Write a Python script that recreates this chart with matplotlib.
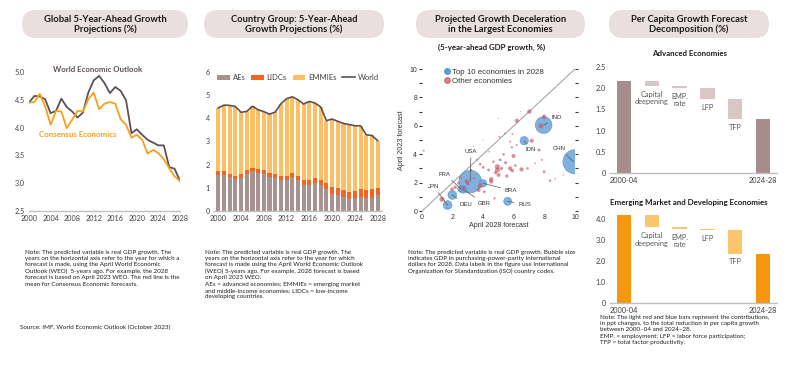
import matplotlib
matplotlib.use("Agg")
import matplotlib.pyplot as plt
import numpy as np
from matplotlib.patches import FancyBboxPatch
from matplotlib.lines import Line2D

W, H = 800, 366
plt.rcParams["font.family"] = ["Lato", "DejaVu Sans"]
HELV = "Liberation Sans"

# ---- data -------------------------------------------------------------
years = list(range(2000, 2029))
weo = [4.45, 4.57, 4.56, 4.51, 4.26, 4.30, 4.52, 4.37, 4.29, 4.18, 4.27, 4.63, 4.85, 4.93, 4.80,
       4.62, 4.73, 4.66, 4.49, 3.90, 3.97, 3.87, 3.78, 3.73, 3.68, 3.68, 3.29, 3.26, 3.04]
consensus = [4.45, 4.46, 4.61, 4.38, 4.05, 4.30, 4.29, 3.99, 4.14, 4.30, 4.29, 4.51, 4.63, 4.33, 4.43,
             4.46, 4.43, 4.15, 4.05, 3.82, 3.87, 3.78, 3.53, 3.60, 3.54, 3.43, 3.27, 3.12, 3.04]

aes = [1.54, 1.54, 1.47, 1.38, 1.42, 1.61, 1.71, 1.64, 1.61, 1.47, 1.44, 1.35, 1.32, 1.45, 1.32,
       1.12, 1.12, 1.21, 1.11, 0.96, 0.75, 0.71, 0.60, 0.53, 0.58, 0.60, 0.58, 0.58, 0.68]
lidcs = [0.17, 0.17, 0.14, 0.15, 0.16, 0.17, 0.16, 0.16, 0.17, 0.17, 0.17, 0.18, 0.21, 0.19, 0.19,
         0.20, 0.20, 0.23, 0.21, 0.25, 0.29, 0.28, 0.29, 0.30, 0.28, 0.36, 0.34, 0.36, 0.33]
emmies = [2.74, 2.86, 2.95, 2.98, 2.68, 2.52, 2.65, 2.57, 2.51, 2.54, 2.66, 3.10, 3.32, 3.29, 3.29,
          3.30, 3.41, 3.22, 3.17, 2.69, 2.93, 2.88, 2.89, 2.90, 2.82, 2.72, 2.37, 2.32, 2.03]

top10_names = ["CHN", "USA", "IND", "JPN", "DEU", "RUS", "IDN", "BRA", "FRA", "GBR"]
top10_x = [10.0, 3.15, 7.95, 1.67, 1.98, 5.60, 6.68, 3.98, 2.55, 2.70]
top10_y = [3.47, 2.07, 6.05, 0.42, 1.13, 0.68, 4.95, 1.95, 1.55, 1.50]
top10_gdp = [46.0, 40.0, 22.0, 6.0, 6.0, 5.0, 5.5, 4.5, 3.5, 3.8]

other_x = [7.02, 7.98, 7.76, 6.20, 7.17, 7.65, 5.87, 5.98, 6.50, 5.76, 4.93, 4.93, 5.00, 4.52, 4.52,
           3.80, 3.70, 2.93, 3.20, 3.60, 3.80, 4.00, 5.54, 5.90, 5.46, 8.37, 7.98, 7.83, 2.50, 2.17,
           1.96, 1.30, 0.11, 4.74, 4.07, 5.07, 5.43, 5.90, 5.76, 6.20, 6.46, 5.00, 4.00, 3.37, 4.39,
           5.10, 4.67, 5.33, 4.35, 6.90, 7.39, 9.24, 8.70, 2.72, 2.39, 4.80, 5.20, 6.10, 3.00, 3.40]
other_y = [7.00, 6.64, 5.99, 6.36, 4.95, 4.30, 4.48, 3.87, 2.93, 3.00, 3.12, 2.89, 2.54, 2.23, 2.07,
           1.76, 1.48, 2.07, 2.89, 3.60, 3.30, 3.07, 2.46, 2.84, 3.40, 2.14, 2.77, 3.60, 2.35, 1.67,
           1.53, 0.82, 4.25, 0.89, 1.36, 5.23, 5.47, 5.42, 4.88, 4.65, 7.00, 6.53, 5.00, 4.53, 4.18,
           3.60, 3.47, 3.99, 2.89, 3.00, 3.36, 2.54, 2.28, 1.60, 1.95, 2.70, 3.00, 3.20, 1.90, 2.30]
other_gdp = [1.5, 1.5, 1.8, 1.3, 1.3, 0.7, 0.4, 1.2, 1.4, 1.4, 2.0, 2.0, 1.2, 1.6, 1.3,
             1.8, 1.3, 1.4, 0.5, 0.3, 0.5, 0.6, 0.8, 1.0, 0.7, 0.5, 0.6, 0.3, 0.4, 0.9,
             1.0, 2.0, 0.3, 0.4, 0.6, 0.3, 0.25, 0.3, 0.3, 0.3, 0.1, 0.1, 0.1, 0.1, 0.2,
             0.6, 0.5, 0.5, 0.6, 0.5, 0.2, 0.15, 0.2, 1.0, 0.6, 0.8, 0.8, 0.5, 0.7, 0.4]

decomp_labels = ["Capital\ndeepening", "EMP.\nrate", "LFP", "TFP"]
period_labels = ["2000-04", "2024-28"]
ae_start, ae_steps = 2.17, [-0.12, -0.04, -0.27, -0.47]
emde_start, emde_steps = 4.20, [-0.60, -0.06, -0.08, -1.10]

# ---- colours ----------------------------------------------------------
C_WEO = "#5e5153"
C_ORANGE = "#f7a11a"
C_AE = "#a8928f"
C_LIDC = "#f26522"
C_EMMIE = "#fdbf63"
C_GRID = "#bfbfbf"
C_TXT = "#404040"
C_PILL = "#e9dfde"

fig = plt.figure(figsize=(W / 100, H / 100), dpi=100)
fig.patch.set_facecolor("white")
renderer = fig.canvas.get_renderer()


def fit(s, target_px, **kw):
    # font size that makes string s about target_px wide
    t = fig.text(0, 0, s, fontsize=10, **kw)
    w = t.get_window_extent(renderer).width
    t.remove()
    return 10 * target_px / w


FS_TITLE = fit("Global 5-Year-Ahead Growth", 122, fontweight="bold")
FS_TICK = fit("2000", 16.7)
FS_LEG2 = fit("EMMIEs", 28)
FS_SUB3 = fit("(5-year-ahead GDP growth, %)", 108, fontweight="bold")
FS_LEG3 = fit("Top 10 economies in 2028", 92, family=HELV)
FS_AXL3 = fit("April 2028 forecast", 60, family=HELV)
FS_TICK3 = fit("10", 7.7, family=HELV)
FS_CTRY = fit("USA", 12.5, family=HELV)
FS_SUB4 = fit("Emerging Market and Developing Economies", 158, fontweight="bold")
FS_DEC = fit("deepening", 34)
FS_TICK4 = fit("2000-04", 28.5)
FS_NOTE = fit("Note: The predicted variable is real GDP growth. Bubble size", 168)
FS_SRC = fit("Source: IMF, World Economic Outlook (October 2023)", 150)

bg = fig.add_axes([0, 0, 1, 1], zorder=-1)
bg.set_xlim(0, W)
bg.set_ylim(H, 0)
bg.axis("off")


def px_axes(x0, y0, x1, y1):
    return fig.add_axes([x0 / W, 1 - y1 / H, (x1 - x0) / W, (y1 - y0) / H])


def pill(x0, x1, text):
    bg.add_patch(FancyBboxPatch((x0, 10), x1 - x0, 28, boxstyle="round,pad=0,rounding_size=14",
                                fc=C_PILL, ec="none"))
    bg.text((x0 + x1) / 2, 24.5, text, ha="center", va="center", fontsize=FS_TITLE,
            fontweight="bold", color="#1a1a1a", linespacing=1.15)


def excel_style(ax, size):
    for s in ("top", "right", "left"):
        ax.spines[s].set_visible(False)
    ax.spines["bottom"].set_color(C_GRID)
    ax.spines["bottom"].set_linewidth(1.0)
    ax.tick_params(length=0, labelsize=size, colors=C_TXT, pad=3)


pill(22, 188, "Global 5-Year-Ahead Growth\nProjections (%)")
pill(204, 384, "Country Group: 5-Year-Ahead\nGrowth Projections (%)")
pill(416, 585, "Projected Growth Deceleration\nin the Largest Economies")
pill(609, 769, "Per Capita Growth Forecast\nDecomposition (%)")

# ---- panel 1 ----------------------------------------------------------
ax1 = px_axes(29, 72, 180, 211)
ax1.plot(years, weo, color=C_WEO, lw=1.3)
ax1.plot(years, consensus, color=C_ORANGE, lw=1.3)
ax1.set_xlim(2000, 2028)
ax1.set_ylim(2.5, 5.0)
ax1.set_xticks(range(2000, 2029, 4))
ax1.set_yticks(np.arange(2.5, 5.01, 0.5))
ax1.set_yticklabels([f"{v:.1f}" for v in np.arange(2.5, 5.01, 0.5)])
excel_style(ax1, FS_TICK)
ax1.text(2012.8, 5.04, "World Economic Outlook", color=C_WEO,
         fontsize=fit("World Economic Outlook", 90, fontweight="bold"), fontweight="bold",
         ha="center", va="center")
ax1.text(2009.0, 3.87, "Consensus Economics", color=C_ORANGE,
         fontsize=fit("Consensus Economics", 77, fontweight="bold"), fontweight="bold",
         ha="center", va="center")

# ---- panel 2 ----------------------------------------------------------
ax2 = px_axes(214, 72, 382, 211)
bw = 0.72
b1 = ax2.bar(years, aes, bw, color=C_AE)
b2 = ax2.bar(years, lidcs, bw, bottom=aes, color=C_LIDC)
b3 = ax2.bar(years, emmies, bw, bottom=np.add(aes, lidcs), color=C_EMMIE)
l1, = ax2.plot(years, weo, color=C_WEO, lw=1.2)
ax2.set_xlim(1999.24, 2028.77)
ax2.set_ylim(0, 6)
ax2.set_xticks(range(2000, 2029, 4))
ax2.set_yticks(range(0, 7))
excel_style(ax2, FS_TICK)
ax2.legend([b1, b2, b3, l1], ["AEs", "LIDCs", "EMMIEs", "World"], ncol=4, loc="upper center",
           bbox_to_anchor=(0.5, 1.035), frameon=False, fontsize=FS_LEG2, handlelength=1.7,
           handleheight=0.55, columnspacing=0.75, handletextpad=0.35, labelcolor=C_TXT)

# ---- panel 3 ----------------------------------------------------------
SCALE = 6.6
ax3 = px_axes(422, 69, 575, 211)
ax3.plot([0, 10], [0, 10], color="#a6a6a6", lw=0.8, zorder=1)
ax3.scatter(top10_x, top10_y, s=np.array(top10_gdp) * SCALE, color="#6aa3d8", alpha=0.85,
            edgecolors="#4a88c6", linewidths=0.4, zorder=2)
ax3.scatter(other_x, other_y, s=np.array(other_gdp) * SCALE, color="#c9505f", alpha=0.65,
            edgecolors="none", zorder=3)
ax3.set_xlim(0, 10)
ax3.set_ylim(0, 10)
for s in ax3.spines.values():
    s.set_visible(False)
ax3.set_xticks(range(0, 11, 2))
ax3.set_yticks(range(0, 11, 2))
ax3.set_yticks(range(0, 11), minor=True)
ax3.tick_params(axis="x", length=0, labelsize=FS_TICK3, colors="#333333", pad=2)
ax3.tick_params(axis="y", which="both", length=2.5, width=0.8, labelsize=FS_TICK3,
                colors="#333333", right=True, pad=1)
for lab in ax3.get_xticklabels() + ax3.get_yticklabels():
    lab.set_family(HELV)
ax3.set_xlabel("April 2028 forecast", fontsize=FS_AXL3, family=HELV, color="#333333",
               labelpad=1)
ax3.set_ylabel("April 2023 forecast", fontsize=FS_AXL3, family=HELV, color="#333333",
               labelpad=3)

label_pos = {"CHN": (9.0, 4.4), "USA": (3.2, 4.2), "IND": (8.8, 6.6), "JPN": (0.75, 1.75),
             "DEU": (2.85, 0.45), "RUS": (6.7, 0.45), "IDN": (7.1, 4.3), "BRA": (5.8, 1.45),
             "FRA": (1.5, 2.6), "GBR": (4.05, 0.55)}
for name, x, y in zip(top10_names, top10_x, top10_y):
    tx, ty = label_pos[name]
    ax3.annotate(name, xy=(min(x, 9.9), y), xytext=(tx, ty), fontsize=FS_CTRY, family=HELV,
                 color="#333333", ha="center", va="center",
                 arrowprops=dict(arrowstyle="-", color="#555555", lw=0.5, shrinkA=1, shrinkB=0))
handles = [Line2D([], [], marker="o", ls="none", color="#5b9bd5", markersize=4),
           Line2D([], [], marker="o", ls="none", color="#c9505f", alpha=0.7, markersize=4)]
leg = ax3.legend(handles, ["Top 10 economies in 2028", "Other economies"], loc="upper left",
                 bbox_to_anchor=(0.1, 1.035), frameon=False, fontsize=FS_LEG3, handletextpad=0.1,
                 labelspacing=0.15, borderaxespad=0.2, handlelength=1.2)
for t in leg.get_texts():
    t.set_family(HELV)
    t.set_color("#333333")
bg.text(492, 47, "(5-year-ahead GDP growth, %)", ha="center", va="center", fontsize=FS_SUB3,
        fontweight="bold", color="#1a1a1a")

# ---- panel 4 ----------------------------------------------------------


def waterfall(ax, start, steps, dark, light, ymax, yticks, ylabels):
    levels = start + np.cumsum(steps)
    end = levels[-1]
    ax.bar([0, 5], [start, end], 0.52, color=dark)
    prev = start
    for i, (lv, lab) in enumerate(zip(levels, decomp_labels)):
        ax.bar(i + 1, prev - lv, 0.52, bottom=lv, color=light)
        ax.annotate(lab, xy=(i + 1, lv), xytext=(0, -3.5), textcoords="offset points", ha="center",
                    va="top", fontsize=FS_DEC, color="#595959", linespacing=1.05)
        prev = lv
    ax.set_xlim(-0.5, 5.5)
    ax.set_ylim(0, ymax)
    ax.set_xticks([0, 5])
    ax.set_xticklabels(period_labels)
    ax.set_yticks(yticks)
    ax.set_yticklabels(ylabels)
    excel_style(ax, FS_TICK4)


ax4 = px_axes(610, 67, 777, 173)
waterfall(ax4, ae_start, ae_steps, "#a68d8c", "#d8c7c6", 2.5, [0, 0.5, 1.0, 1.5, 2.0, 2.5],
          ["0", "0.5", "1.0", "1.5", "2.0", "2.5"])
ax5 = px_axes(610, 212.7, 777, 303.3)
waterfall(ax5, emde_start, emde_steps, "#f7960f", "#fdc46e", 4.3, [0, 1, 2, 3, 4],
          ["0", "1.0", "2.0", "3.0", "4.0"])
bg.text(689.5, 54, "Advanced Economies", ha="center", va="center", fontsize=FS_SUB4,
        fontweight="bold", color="#1a1a1a")
bg.text(689, 202, "Emerging Market and Developing Economies", ha="center", va="center",
        fontsize=FS_SUB4, fontweight="bold", color="#1a1a1a")

# ---- notes ------------------------------------------------------------
note_kw = dict(ha="left", va="top", fontsize=FS_NOTE, color="#1f1f1f", linespacing=1.3)
bg.text(25, 250, "Note: The predicted variable is real GDP growth. The\n"
        "years on the horizontal axis refer to the year for which a\n"
        "forecast is made, using the April World Economic\n"
        "Outlook (WEO)  5-years ago. For example, the 2028\n"
        "forecast is based on April 2023 WEO. The red line is the\n"
        "mean for Consensus Economic forecasts.", **note_kw)
bg.text(205, 250, "Note: The predicted variable is real GDP growth. The\n"
        "years on the horizontal axis refer to the year for which\n"
        "forecast is made using the April World Economic Outlook\n"
        "(WEO) 5-years ago. For example, 2028 forecast is based\n"
        "on April 2023 WEO.\n"
        "AEs = advanced economies; EMMIEs = emerging market\n"
        "and middle-income economies; LIDCs = low-income\n"
        "developing countries.", **note_kw)
bg.text(408, 250, "Note: The predicted variable is real GDP growth. Bubble size\n"
        "indicates GDP in purchasing-power-parity international\n"
        "dollars for 2028. Data labels in the figure use International\n"
        "Organization for Standardization (ISO) country codes.", **note_kw)
bg.text(600, 315, "Note: The light red and blue bars represent the contributions,\n"
        "in ppt changes, to the total reduction in per capita growth\n"
        "between 2000\u201304 and 2024\u201328.\n"
        "EMP. = employment; LFP = labor force participation;\n"
        "TFP = total factor productivity.", **note_kw)
bg.text(20, 327, "Source: IMF, World Economic Outlook (October 2023)", ha="left", va="center",
        fontsize=FS_SRC, color="#1f1f1f")

fig.savefig("out.png", dpi=100)
